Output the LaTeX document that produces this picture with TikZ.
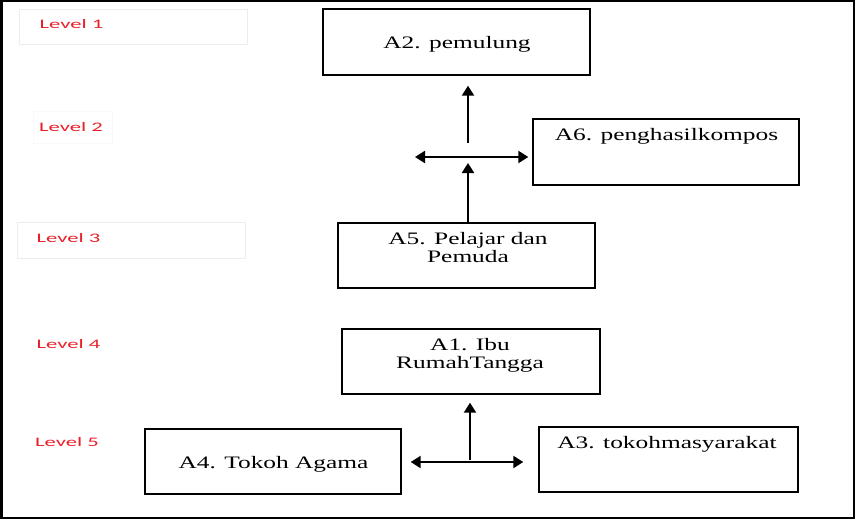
\documentclass[tikz,border=0pt]{standalone}
\usepackage{graphicx}
\usepackage{fontspec}
\setmainfont{Liberation Serif}
\newfontfamily\lvlfont{Carlito}
\usetikzlibrary{arrows.meta}
\newcommand\sx[1]{\scalebox{1.45}[1]{#1}}
\newcommand\slvl[1]{\scalebox{1.74}[1]{#1}}
\definecolor{lvlred}{HTML}{E8202A}
\tikzset{
  box/.style={draw=black, line width=1.4pt, rectangle, inner sep=0pt},
  faint/.style={draw=black!7, line width=1pt, rectangle, inner sep=0pt},
  boxtext/.style={anchor=base, inner sep=0pt, font=\fontsize{17.5}{18.7}\selectfont},
  lvl/.style={anchor=base, inner sep=0pt, text=lvlred, font=\lvlfont\fontsize{13}{15}\selectfont},
  arr/.style={line width=2.2pt, -{Triangle[length=10pt,width=12pt]}},
  darr/.style={line width=2.2pt, {Triangle[length=10pt,width=12pt]}-{Triangle[length=10pt,width=12pt]}}
}
\begin{document}
\begin{tikzpicture}[x=1pt,y=-1pt]
\useasboundingbox (0,0) rectangle (855,519);
\fill[white] (0,0) rectangle (855,519);
\draw[line width=2.5pt] (1.25,1.25) rectangle (853.75,517.75);

% faint level frames
\node[faint, minimum width=228pt, minimum height=35pt] (F1) at (133,27.5) {};
\node[faint, draw=black!2.5, minimum width=79pt, minimum height=31pt] (F2) at (72.5,127.5) {};
\node[faint, minimum width=228pt, minimum height=36pt] (F3) at (131,240) {};

% level labels
\node[lvl] (L1) at (71.5,29) {\slvl{Level 1}};
\node[lvl] (L2) at (71,131.5) {\slvl{Level 2}};
\node[lvl] (L3) at (68.5,242.5) {\slvl{Level 3}};
\node[lvl] (L4) at (68.5,348.5) {\slvl{Level 4}};
\node[lvl] (L5) at (67,446.5) {\slvl{Level 5}};

% boxes
\node[box, minimum width=267pt, minimum height=66pt] (A2) at (456.5,42) {};
\node[box, minimum width=266pt, minimum height=66pt] (A6) at (666,152) {};
\node[box, minimum width=257pt, minimum height=65pt] (A5) at (466.5,255.5) {};
\node[box, minimum width=258pt, minimum height=65pt] (A1) at (471,361.5) {};
\node[box, minimum width=256pt, minimum height=65pt] (A4) at (273,461.5) {};
\node[box, minimum width=259pt, minimum height=65pt] (A3) at (668.5,459.5) {};

% box texts
\node[boxtext] (tA2) at (457,49) {\sx{A2. pemulung}};
\node[boxtext] (tA6) at (666.5,140.5) {\sx{A6. penghasilkompos}};
\node[boxtext] (tA5) at (468,244) {\sx{\begin{tabular}[t]{@{}c@{}}A5. Pelajar dan\\Pemuda\end{tabular}}};
\node[boxtext] (tA1) at (470,350) {\sx{\begin{tabular}[t]{@{}c@{}}A1. Ibu\\RumahTangga\end{tabular}}};
\node[boxtext] (tA4) at (273.5,468) {\sx{A4. Tokoh Agama}};
\node[boxtext] (tA3) at (667,448) {\sx{A3. tokohmasyarakat}};

% junction coordinates
\coordinate (j1) at (468,143);
\coordinate (j2) at (468,163);
\coordinate (h1) at (415,157);
\coordinate (j3) at (470,460);
\coordinate (h2) at (470,462);

% upper connectors
\draw[arr, shorten >=10pt] (j1) -- (j1 |- A2.south);
\draw[darr, shorten >=4pt] (h1) -- (h1 -| A6.west);
\draw[arr] (j2 |- A5.north) -- (j2);

% lower connectors
\draw[arr, shorten >=8pt] (j3) -- (j3 |- A1.south);
\draw[darr, shorten <=9pt, shorten >=15pt] (A4.east |- h2) -- (A3.west |- h2);
\end{tikzpicture}
\end{document}
